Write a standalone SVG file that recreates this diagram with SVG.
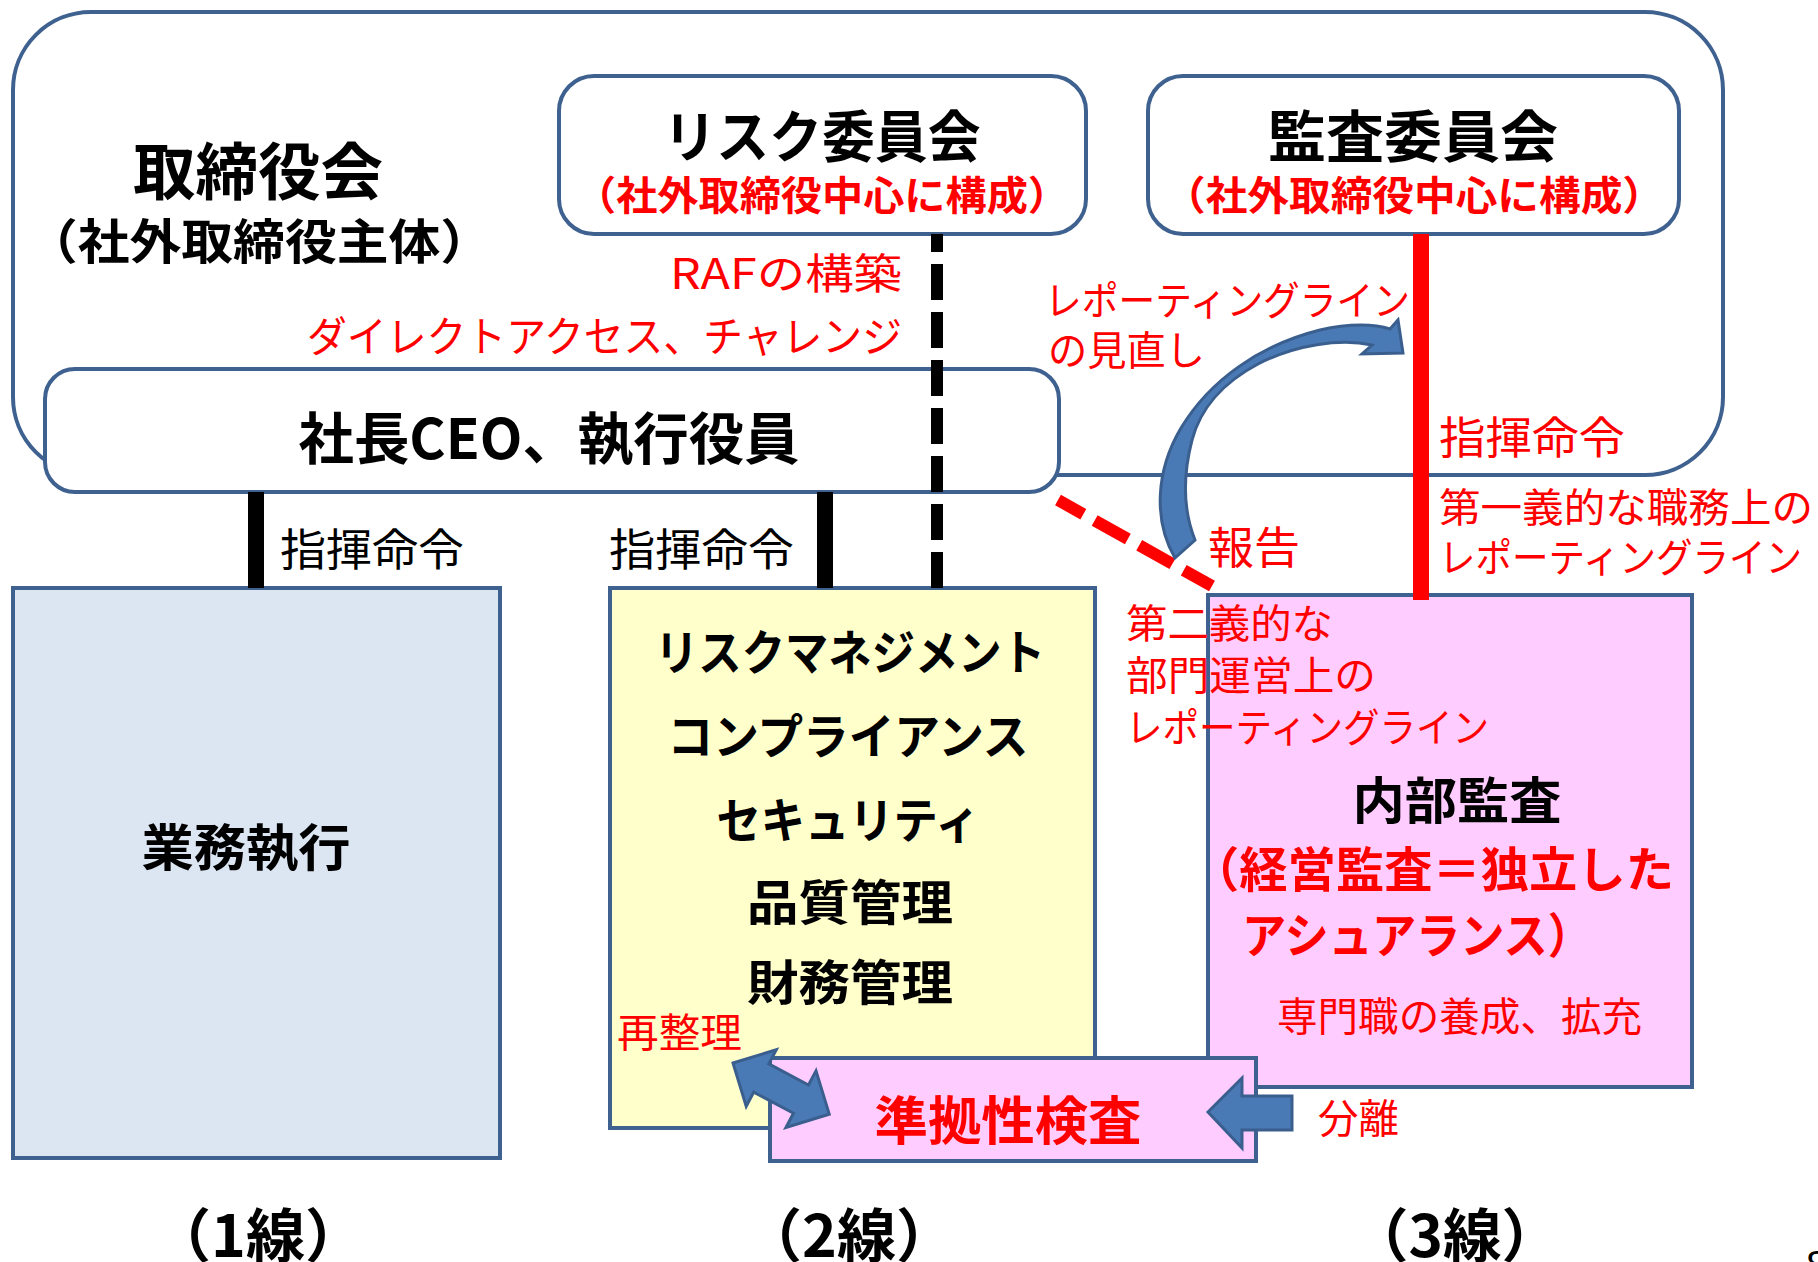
<svg xmlns="http://www.w3.org/2000/svg" width="1818" height="1262" viewBox="0 0 1818 1262">
<style>
.box{stroke:#3E6190;stroke-width:4}
.t{font-family:"Noto Sans CJK JP","Noto Sans CJK SC",sans-serif}
.b{font-weight:bold}
.k{fill:#000}
.r{fill:#FF0000}
.arrow{fill:#4A7AB5;stroke:#3A5F8E;stroke-width:3;stroke-linejoin:miter}
</style>
<rect width="1818" height="1262" fill="#fff"/>
<g id="board">
<rect class="box" x="13" y="12" width="1710" height="463" rx="78" ry="78" fill="#fff"/>
<text class="t b k" x="258" y="195" font-size="62" text-anchor="middle" textLength="250" lengthAdjust="spacingAndGlyphs">取締役会</text>
<text class="t b k" x="259" y="259" font-size="48" text-anchor="middle" textLength="466" lengthAdjust="spacingAndGlyphs">（社外取締役主体）</text>
</g>
<g id="risk-committee">
<rect class="box" x="559" y="76" width="527" height="158" rx="35" ry="35" fill="#fff"/>
<text class="t b k" x="822" y="157" font-size="56" text-anchor="middle" textLength="317" lengthAdjust="spacingAndGlyphs">リスク委員会</text>
<text class="t b r" x="822" y="210" font-size="40" text-anchor="middle" textLength="494" lengthAdjust="spacingAndGlyphs">（社外取締役中心に構成）</text>
</g>
<g id="audit-committee">
<rect class="box" x="1148" y="76" width="531" height="158" rx="35" ry="35" fill="#fff"/>
<text class="t b k" x="1413" y="157" font-size="56" text-anchor="middle" textLength="290" lengthAdjust="spacingAndGlyphs">監査委員会</text>
<text class="t b r" x="1414" y="210" font-size="40" text-anchor="middle" textLength="500" lengthAdjust="spacingAndGlyphs">（社外取締役中心に構成）</text>
</g>
<g id="ceo">
<rect class="box" x="45" y="369" width="1014" height="123" rx="30" ry="30" fill="#fff"/>
<text class="t b k" x="549" y="459" font-size="56" text-anchor="middle" textLength="501" lengthAdjust="spacingAndGlyphs">社長CEO、執行役員</text>
</g>
<g id="line1">
<rect class="box" x="13" y="588" width="487" height="570" fill="#DCE6F2"/>
<text class="t b k" x="246" y="866" font-size="50" text-anchor="middle" textLength="209" lengthAdjust="spacingAndGlyphs">業務執行</text>
</g>
<g id="line2">
<rect class="box" x="610" y="588" width="485" height="540" fill="#FFFFCC"/>
<text class="t b k" x="850" y="670" font-size="48" text-anchor="middle" textLength="390" lengthAdjust="spacingAndGlyphs">リスクマネジメント</text>
<text class="t b k" x="848" y="754" font-size="48" text-anchor="middle" textLength="361" lengthAdjust="spacingAndGlyphs">コンプライアンス</text>
<text class="t b k" x="848" y="838" font-size="48" text-anchor="middle" textLength="263" lengthAdjust="spacingAndGlyphs">セキュリティ</text>
<text class="t b k" x="850" y="920" font-size="48" text-anchor="middle" textLength="206" lengthAdjust="spacingAndGlyphs">品質管理</text>
<text class="t b k" x="850" y="1000" font-size="48" text-anchor="middle" textLength="206" lengthAdjust="spacingAndGlyphs">財務管理</text>
</g>
<g id="line3">
<rect class="box" x="1208" y="595" width="484" height="492" fill="#FFCCFF"/>
<text class="t b k" x="1457" y="819" font-size="50" text-anchor="middle" textLength="209" lengthAdjust="spacingAndGlyphs">内部監査</text>
<text class="t b r" x="1191" y="887" font-size="48" textLength="483" lengthAdjust="spacingAndGlyphs">（経営監査＝独立した</text>
<text class="t b r" x="1242" y="953" font-size="48" textLength="350" lengthAdjust="spacingAndGlyphs">アシュアランス）</text>
<text class="t r" x="1277" y="1031" font-size="40" textLength="365" lengthAdjust="spacingAndGlyphs">専門職の養成、拡充</text>
</g>
<g id="compliance-check">
<rect class="box" x="770" y="1058" width="486" height="103" fill="#FFCCFF"/>
<text class="t b r" x="1008" y="1140" font-size="52" text-anchor="middle" textLength="267" lengthAdjust="spacingAndGlyphs">準拠性検査</text>
</g>
<g id="connectors">
<line x1="256" y1="492" x2="256" y2="588" stroke="#000" stroke-width="16"/>
<line x1="825" y1="492" x2="825" y2="588" stroke="#000" stroke-width="16"/>
<line x1="937" y1="234" x2="937" y2="588" stroke="#000" stroke-width="12" stroke-dasharray="36 12" stroke-dashoffset="18"/>
<line x1="1421" y1="234" x2="1421" y2="600" stroke="#FF0000" stroke-width="16"/>
<line x1="1058" y1="500" x2="1212" y2="586" stroke="#FF0000" stroke-width="12" stroke-dasharray="38 13" stroke-dashoffset="9"/>
<path class="arrow" d="M1175,558 C1153,520 1156,470 1181,428 C1210,380 1260,345 1320,330 C1350,323 1375,324 1390,329 L1398,320 L1403,353 L1362,354 L1372,345 C1340,338 1295,345 1258,364 C1222,383 1200,410 1192,440 C1183,475 1183,510 1195,540 Z"/>
<path class="arrow" transform="translate(733,1063) rotate(28)" d="M0,0 L32,-32 L32,-16 L77,-16 L77,-32 L109,0 L77,32 L77,16 L32,16 L32,32 Z"/>
<path class="arrow" d="M1208,1112 L1242,1078 L1242,1096 L1292,1096 L1292,1130 L1242,1130 L1242,1148 Z"/>
</g>
<g id="labels">
<text class="t r" x="902" y="289" font-size="42" text-anchor="end" textLength="232" lengthAdjust="spacingAndGlyphs">RAFの構築</text>
<text class="t r" x="902" y="352" font-size="42" text-anchor="end" textLength="595" lengthAdjust="spacingAndGlyphs">ダイレクトアクセス、チャレンジ</text>
<text class="t k" x="280" y="566" font-size="44" textLength="184" lengthAdjust="spacingAndGlyphs">指揮命令</text>
<text class="t k" x="609" y="566" font-size="44" textLength="185" lengthAdjust="spacingAndGlyphs">指揮命令</text>
<text class="t r" x="1045" y="315" font-size="40" textLength="365" lengthAdjust="spacingAndGlyphs">レポーティングライン</text>
<text class="t r" x="1048" y="365" font-size="40" textLength="157" lengthAdjust="spacingAndGlyphs">の見直し</text>
<text class="t r" x="1439" y="454" font-size="44" textLength="186" lengthAdjust="spacingAndGlyphs">指揮命令</text>
<text class="t r" x="1439" y="522" font-size="40" textLength="374" lengthAdjust="spacingAndGlyphs">第一義的な職務上の</text>
<text class="t r" x="1439" y="572" font-size="40" textLength="363" lengthAdjust="spacingAndGlyphs">レポーティングライン</text>
<text class="t r" x="1208" y="564" font-size="44" textLength="92" lengthAdjust="spacingAndGlyphs">報告</text>
<text class="t r" x="1126" y="638" font-size="40" textLength="207" lengthAdjust="spacingAndGlyphs">第二義的な</text>
<text class="t r" x="1126" y="690" font-size="40" textLength="250" lengthAdjust="spacingAndGlyphs">部門運営上の</text>
<text class="t r" x="1126" y="742" font-size="40" textLength="363" lengthAdjust="spacingAndGlyphs">レポーティングライン</text>
<text class="t r" x="617" y="1047" font-size="40" textLength="125" lengthAdjust="spacingAndGlyphs">再整理</text>
<text class="t r" x="1318" y="1133" font-size="40" textLength="81" lengthAdjust="spacingAndGlyphs">分離</text>
<text class="t b k" x="258" y="1257" font-size="58" text-anchor="middle" textLength="212" lengthAdjust="spacingAndGlyphs">（1線）</text>
<text class="t b k" x="849" y="1257" font-size="58" text-anchor="middle" textLength="212" lengthAdjust="spacingAndGlyphs">（2線）</text>
<text class="t b k" x="1455" y="1257" font-size="58" text-anchor="middle" textLength="210" lengthAdjust="spacingAndGlyphs">（3線）</text>
<text x="1806" y="1279" font-family="Liberation Sans, sans-serif" font-size="40" fill="#000">8</text>
</g>
</svg>
